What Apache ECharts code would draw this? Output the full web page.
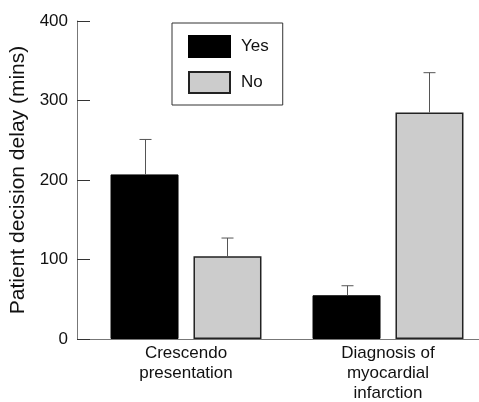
<!DOCTYPE html>
<html>
<head>
<meta charset="utf-8">
<script src="https://cdn.jsdelivr.net/npm/echarts@6/dist/echarts.min.js"></script>
<style>html,body{margin:0;padding:0;background:#fff}#c{width:479px;height:402px}</style>
</head>
<body>
<div id="c"></div>
<script>
var categories = ['Crescendo\npresentation', 'Diagnosis of\nmyocardial\ninfarction'];
var yesValues = [207, 55];
var yesErrors = [44, 12];
var noValues = [104, 285];
var noErrors = [23, 50];
var yTicks = [0, 100, 200, 300, 400];

var FONT = 'Liberation Sans, Arial, Helvetica, sans-serif';
var BAR_W = 68, BAR_GAP = 0.22;

function errSeries(name, values, errors, sign) {
  return {
    type: 'custom', name: name, z: 5, silent: true,
    data: values.map(function (v, i) { return [i, v, v + errors[i]]; }),
    renderItem: function (params, api) {
      var off = sign * (BAR_W + BAR_W * BAR_GAP) / 2;
      var p0 = api.coord([api.value(0), api.value(1)]);
      var p1 = api.coord([api.value(0), api.value(2)]);
      var x = Math.round(p0[0] + off) + 0.5;
      var st = { stroke: '#555', lineWidth: 1 };
      return { type: 'group', children: [
        { type: 'line', shape: { x1: x, y1: p0[1], x2: x, y2: p1[1] }, style: st },
        { type: 'line', shape: { x1: x - 6, y1: p1[1], x2: x + 6, y2: p1[1] }, style: st }
      ]};
    }
  };
}

var chart = echarts.init(document.getElementById('c'));
chart.setOption({
  animation: false,
  textStyle: { fontFamily: FONT },
  grid: { left: 85, top: 21, width: 404, bottom: 63, outerBoundsMode: 'none', containLabel: false },
  legend: {
    data: ['Yes', 'No'], orient: 'vertical', left: 172, top: 23,
    padding: [12, 14, 11, 16], itemWidth: 41, itemHeight: 21, itemGap: 13,
    borderColor: '#333', borderWidth: 1, icon: 'rect',
    textStyle: { fontSize: 17, lineHeight: 21, color: '#111', fontFamily: FONT, padding: [0, 0, 0, 6] }
  },
  xAxis: {
    type: 'category', data: categories,
    axisLine: { lineStyle: { color: '#777', width: 1 } },
    axisTick: { show: false },
    axisLabel: { fontSize: 17, lineHeight: 20, color: '#111', margin: 4, fontFamily: FONT }
  },
  yAxis: {
    type: 'value', min: 0, max: 400, interval: 100, offset: 8,
    name: 'Patient decision delay (mins)', nameLocation: 'middle', nameGap: 37,
    nameTextStyle: { fontSize: 21, color: '#111', fontFamily: FONT },
    splitLine: { show: false },
    axisLine: { show: true, lineStyle: { color: '#777', width: 1 } },
    axisTick: { show: true, inside: true, length: 13, lineStyle: { color: '#333', width: 1 } },
    axisLabel: { fontSize: 17, color: '#111', margin: 9, fontFamily: FONT,
      formatter: function (v) { return yTicks.indexOf(v) >= 0 ? String(v) : ''; } }
  },
  series: [
    { type: 'bar', name: 'Yes', data: yesValues, barWidth: BAR_W, barGap: '22%',
      itemStyle: { color: '#000', borderColor: '#000', borderWidth: 1 } },
    { type: 'bar', name: 'No', data: noValues, barWidth: BAR_W, barGap: '22%',
      itemStyle: { color: '#cccccc', borderColor: '#222', borderWidth: 1.5 } },
    errSeries('Yes error', yesValues, yesErrors, -1),
    errSeries('No error', noValues, noErrors, 1)
  ]
});
</script>
</body>
</html>
